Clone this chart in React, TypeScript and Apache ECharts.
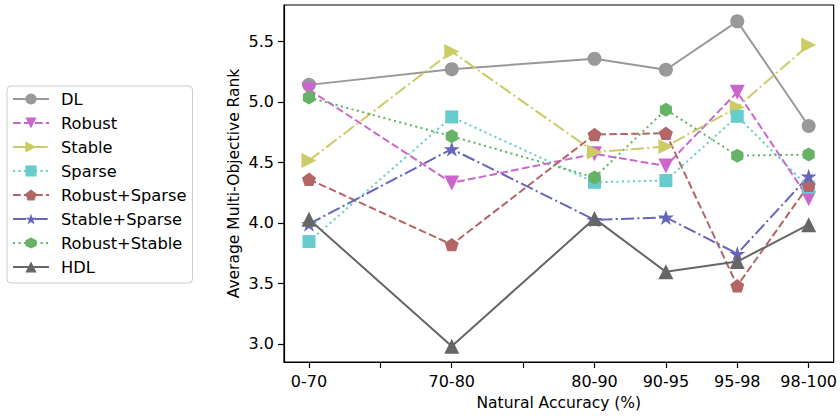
import React, { useEffect, useRef } from "react";
import * as echarts from "echarts";

const categories = ["0-70", "70-80", "80-90", "90-95", "95-98", "98-100"];
const xPositions = [0, 2, 4, 5, 6, 7];
const yTicks = [3.0, 3.5, 4.0, 4.5, 5.0, 5.5];

const seriesNames = ["DL", "Robust", "Stable", "Sparse", "Robust+Sparse", "Stable+Sparse", "Robust+Stable", "HDL"];
const dl = [5.14, 5.27, 5.355, 5.265, 5.665, 4.8];
const robust = [5.1, 4.33, 4.57, 4.47, 5.08, 4.2];
const stable = [4.515, 5.415, 4.585, 4.63, 4.955, 5.47];
const sparse = [3.845, 4.875, 4.335, 4.35, 4.88, 4.295];
const robustSparse = [4.36, 3.82, 4.73, 4.74, 3.48, 4.31];
const stableSparse = [3.99, 4.61, 4.025, 4.045, 3.745, 4.385];
const robustStable = [5.035, 4.715, 4.375, 4.935, 4.555, 4.565];
const hdl = [4.03, 2.98, 4.035, 3.595, 3.68, 3.985];

const values = [dl, robust, stable, sparse, robustSparse, stableSparse, robustStable, hdl];
const colors = ["#999999", "#cc66cc", "#cccc66", "#66cccc", "#b36666", "#6666bb", "#66b366", "#666666"];
const dashed = [7.7, 3.3];
const dashDot = [13, 3.3, 2.1, 3.3];
const dotted = [2.1, 3.4];
const lineTypes: any[] = ["solid", dashed, dashDot, dotted, dashed, dashDot, dotted, "solid"];

const PENTAGON = "path://M0,-1 L0.951,-0.309 L0.588,0.809 L-0.588,0.809 L-0.951,-0.309 Z";
const STAR = "path://M0,-1 L0.2245,-0.309 L0.951,-0.309 L0.363,0.118 L0.588,0.809 L0,0.382 L-0.588,0.809 L-0.363,0.118 L-0.951,-0.309 L-0.2245,-0.309 Z";
const HEXAGON = "path://M0,-1 L0.866,-0.5 L0.866,0.5 L0,1 L-0.866,0.5 L-0.866,-0.5 Z";
const symbols = ["circle", "triangle", "triangle", "rect", PENTAGON, STAR, HEXAGON, "triangle"];
const rotations = [0, 180, -90, 0, 0, 0, 0, 0];
const sizes = [14, 15, 15, 13, 14, 16, 14, 15];

const FONT = "DejaVu Sans";

export default function App() {
  const ref = useRef<HTMLDivElement>(null);
  useEffect(() => {
    const chart = echarts.init(ref.current!, undefined, { renderer: "svg" });
    const series = seriesNames.map((name, i) => ({
      name,
      type: "line",
      data: values[i].map((v, j) => [xPositions[j], v]),
      symbol: symbols[i],
      symbolRotate: rotations[i],
      symbolSize: sizes[i],
      symbolKeepAspect: true,
      showSymbol: true,
      lineStyle: { color: colors[i], width: 2, type: lineTypes[i] },
      itemStyle: { color: colors[i], opacity: 1 },
      emphasis: { disabled: true },
    }));
    chart.setOption({
      animation: false,
      textStyle: { fontFamily: FONT },
      grid: {
        left: 284,
        right: 5,
        top: 5,
        bottom: 53,
        show: true,
        borderColor: "#000",
        borderWidth: 1.2,
        containLabel: false,
      },
      legend: {
        orient: "vertical",
        left: 7,
        top: 86,
        padding: [5, 6, 8, 5],
        itemWidth: 36,
        itemHeight: 14,
        itemGap: 8,
        backgroundColor: "#fff",
        borderColor: "#cccccc",
        borderWidth: 1,
        borderRadius: 4,
        textStyle: { fontFamily: FONT, fontSize: 16.3, color: "#000", padding: [0, 0, 0, 7] },
        data: seriesNames,
      },
      xAxis: {
        type: "value",
        min: -0.35,
        max: 7.35,
        name: "Natural Accuracy (%)",
        nameLocation: "middle",
        nameGap: 33,
        nameMoveOverlap: false,
        nameTextStyle: { fontFamily: FONT, fontSize: 15.5, color: "#000" },
        splitLine: { show: false },
        axisLine: { show: true, onZero: false, lineStyle: { color: "#000", width: 1.2 } },
        axisTick: {
          show: true,
          length: 6,
          lineStyle: { color: "#000", width: 1.2 },
          customValues: [0, 1, 2, 3, 4, 5, 6, 7],
        },
        axisLabel: {
          fontFamily: FONT,
          fontSize: 16,
          color: "#000",
          margin: 11,
          customValues: xPositions,
          formatter: (v: number) => {
            const idx = xPositions.indexOf(Math.round(v));
            return idx >= 0 ? categories[idx] : "";
          },
        },
      },
      yAxis: {
        type: "value",
        min: 2.85,
        max: 5.8,
        name: "Average Multi-Objective Rank",
        nameLocation: "middle",
        nameGap: 42,
        nameMoveOverlap: false,
        nameTextStyle: { fontFamily: FONT, fontSize: 15.5, color: "#000" },
        splitLine: { show: false },
        axisLine: { show: true, onZero: false, lineStyle: { color: "#000", width: 1.2 } },
        axisTick: {
          show: true,
          length: 6,
          lineStyle: { color: "#000", width: 1.2 },
          customValues: yTicks,
        },
        axisLabel: {
          fontFamily: FONT,
          fontSize: 16,
          color: "#000",
          margin: 10,
          customValues: yTicks,
          formatter: (v: number) => v.toFixed(1),
        },
      },
      series,
    });
    return () => chart.dispose();
  }, []);
  return <div ref={ref} style={{ width: 840, height: 416, position: "absolute", left: 0, top: 0 }} />;
}
